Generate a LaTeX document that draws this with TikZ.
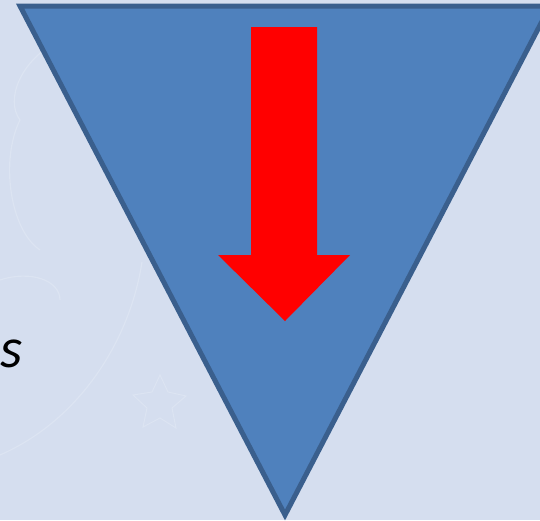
\documentclass[tikz,border=0pt]{standalone}
\usepackage{fontspec}
\newfontfamily\calib{Carlito}
\definecolor{bg}{HTML}{D5DEEF}
\definecolor{faint}{HTML}{DCE4F2}
\definecolor{tri}{HTML}{4F81BD}
\definecolor{triedge}{HTML}{3A5F8D}
\tikzset{
  deco/.style={draw=faint, line width=1.2pt},
  trishape/.style={fill=tri, draw=triedge, line width=5pt, line join=miter},
  redarrow/.style={fill=red, draw=none},
}
\begin{document}
\begin{tikzpicture}[x=1pt,y=-1pt]
\fill[bg] (0,0) rectangle (540,520);
\useasboundingbox (0,0) rectangle (540,520);
% faint decorations
\draw[deco] (0,455) .. controls (80,420) and (130,340) .. (142,262);
\draw[deco] (20,120) .. controls (0,160) and (10,230) .. (40,250);
\draw[deco] (60,40) .. controls (20,60) and (5,100) .. (20,120);
\draw[deco] (0,280) .. controls (30,270) and (60,280) .. (60,300);
\draw[deco, line width=1pt] (160,375) -- (168,392) -- (186,396) -- (172,408) -- (176,428) -- (160,418) -- (143,427) -- (147,408) -- (133,395) -- (152,392) -- cycle;
% triangle
\coordinate (tl) at (20,6);
\coordinate (tr) at (550,6);
\coordinate (ap) at (285,515);
\draw[trishape] (tl) -- (tr) -- (ap) -- cycle;
% red arrow
\coordinate (tip) at (285,321);
\fill[redarrow] (251,27) -- (317,27) -- (317,255) -- (350,255) -- (tip) -- (218,255) -- (251,255) -- cycle;
% text
\node[anchor=base west, inner sep=0pt, font=\calib\itshape\fontsize{57}{62}\selectfont] (s) at (0,367) {s};
\end{tikzpicture}
\end{document}
